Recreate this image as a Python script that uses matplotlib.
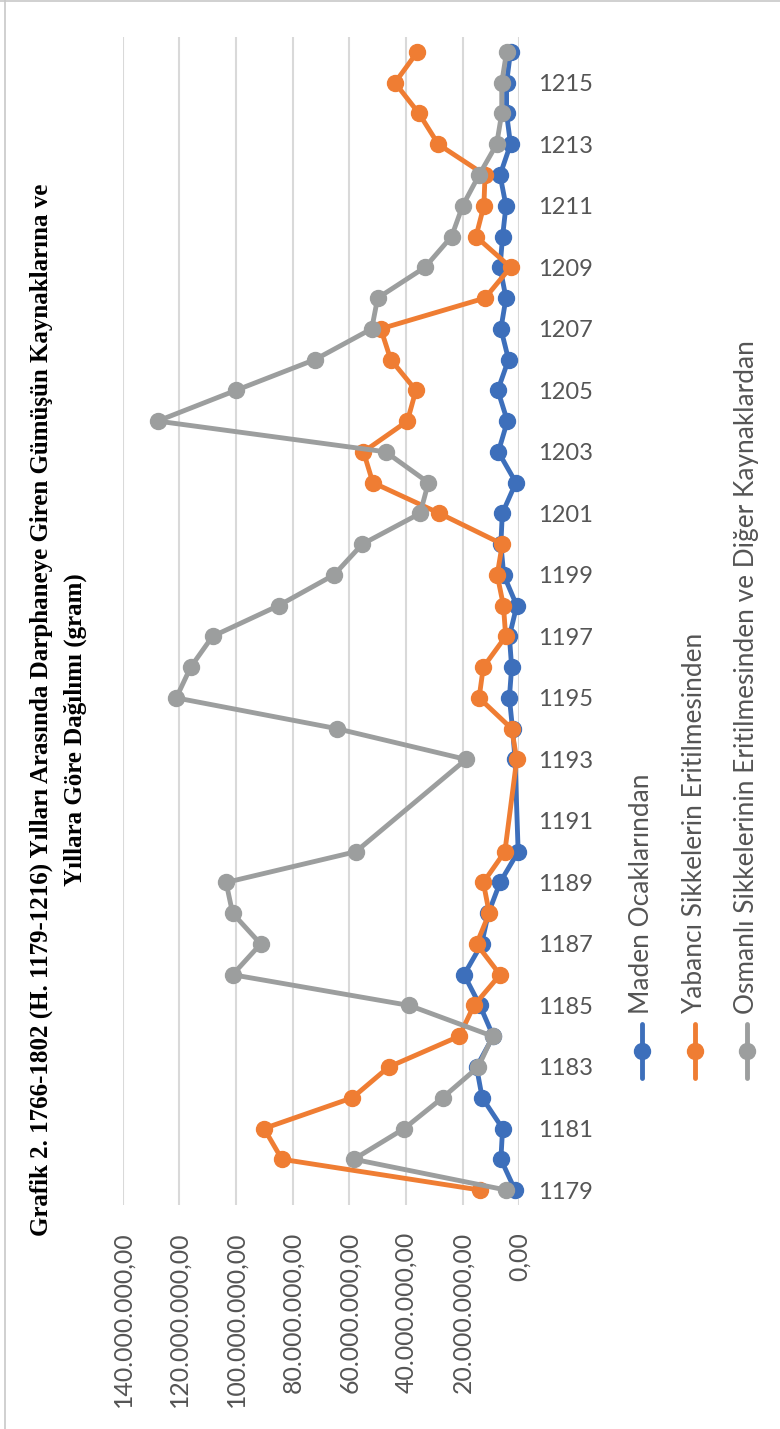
import numpy as np
import matplotlib
matplotlib.use("Agg")
import matplotlib.pyplot as plt
from matplotlib.ticker import FuncFormatter

plt.rcParams['font.family'] = ['Lato', 'DejaVu Sans']

# ---------------- data (values in millions of grams) ----------------
years = list(range(1179, 1217))
maden = [1.5, 6.5, 5.9, 13.1, 15.1, 9.2, 13.9, 19.5, 13.3, 10.9, 6.8, 0.4,
         np.nan, np.nan,
         1.5, 2.4, 3.5, 2.7, 3.5, 0.9, 5.5, 6.5, 6.0, 1.2, 7.4, 4.2, 7.6, 3.8,
         6.5, 4.7, 6.8, 5.9, 4.7, 6.8, 3.1, 4.5, 4.5, 3.1]
yabanci = [13.9, 83.8, 90.1, 58.9, 46.1, 21.2, 16.0, 6.8, 15.1, 10.6, 12.7, 5.1,
           np.nan, np.nan,
           0.9, 2.7, 14.2, 12.7, 4.8, 5.6, 7.8, 6.0, 28.2, 51.7, 55.0, 39.5, 36.5,
           45.4, 48.9, 12.1, 3.1, 15.3, 12.5, 12.1, 28.6, 35.4, 43.9, 36.0]
osmanli = [4.7, 58.4, 40.6, 27.1, 14.5, 9.4, 38.8, 101.2, 91.3, 101.2, 103.5, 57.7,
           np.nan, np.nan,
           18.8, 64.4, 121.1, 116.0, 108.3, 85.0, 65.4, 55.4, 35.0, 32.1, 47.2,
           127.7, 100.0, 72.1, 52.1, 50.0, 33.3, 23.9, 20.0, 14.2, 8.0, 6.2, 6.2, 4.5]
series_names = ["Maden Ocaklarından",
                "Yabancı Sikkelerin Eritilmesinden",
                "Osmanlı Sikkelerinin Eritilmesinden ve Diğer Kaynaklardan"]
title_lines = ["Grafik 2. 1766-1802 (H. 1179-1216) Yılları Arasında Darphaneye Giren Gümüşün Kaynaklarına ve",
               "Yıllara Göre Dağılımı (gram)"]
value_ticks = [0, 20e6, 40e6, 60e6, 80e6, 100e6, 120e6, 140e6]
year_ticks = list(range(1179, 1216, 2))

colors = ['#3D6FBB', '#EF7D33', '#9C9E9E']
label_color = '#555555'

W, H = 780, 1429
fig = plt.figure(figsize=(W / 100, H / 100), dpi=100)
renderer = fig.canvas.get_renderer()

def fit_size(text_artist, target_px, use_height):
    fs = text_artist.get_fontsize()
    bb = text_artist.get_window_extent(renderer)
    cur = bb.height if use_height else bb.width
    return fs * target_px / cur

# overlay in pixel coordinates (top-left origin)
ov = fig.add_axes([0, 0, 1, 1])
ov.set_xlim(0, W)
ov.set_ylim(H, 0)
ov.axis('off')

# ---------------- main chart (rotated layout) ----------------
left, right, top, bottom = 122.7, 519.3, 36.6, 1205.4
ax = fig.add_axes([left / W, 1 - bottom / H, (right - left) / W, (bottom - top) / H])
ax.set_xlim(140e6, 0)
ax.set_ylim(1178.5, 1216.5)
for s in ax.spines.values():
    s.set_visible(False)
ax.patch.set_alpha(0)

def tr_fmt(v, pos):
    s = f"{v:,.2f}"
    return s.replace(',', 'X').replace('.', ',').replace('X', '.')

# font sizes fitted to the reference
tmp = ov.text(0, 0, "140.000.000,00", fontsize=18, rotation=90)
xlab_fs = fit_size(tmp, 176, True)
tmp.remove()
tmp = ov.text(0, 0, "1215", fontsize=18)
ylab_fs = fit_size(tmp, 55, False)
tmp.remove()

ax.set_xticks(value_ticks)
ax.xaxis.set_major_formatter(FuncFormatter(tr_fmt))
ax.grid(axis='x', color='#D9D9D9', lw=1.5)
ax.set_axisbelow(True)
ax.tick_params(axis='x', length=0, pad=19, labelsize=xlab_fs,
               labelcolor=label_color, labelrotation=90)
ax.yaxis.tick_right()
ax.set_yticks(year_ticks)
ax.set_yticklabels([str(y) for y in year_ticks])
ax.tick_params(axis='y', length=0, pad=13.5, labelsize=ylab_fs, labelcolor=label_color)

yrs = np.array(years, dtype=float)
for vals, c, z in zip([maden, yabanci, osmanli], colors, [3, 4, 5]):
    v = np.array(vals, dtype=float) * 1e6
    m = ~np.isnan(v)
    ax.plot(v[m], yrs[m], color=c, lw=3.5, marker='o', ms=11.5,
            solid_capstyle='round', zorder=z, clip_on=False)

# ---------------- legend (rotated) ----------------
leg_x = [641.7, 695.0, 746.7]
tmp = ov.text(0, 0, series_names[0], fontsize=18, rotation=90)
leg_fs = fit_size(tmp, 239, True)
tmp.remove()
for x, c, name in zip(leg_x, colors, series_names):
    ov.plot([x, x], [1024, 1078], color=c, lw=3.5, solid_capstyle='round')
    ov.plot([x], [1051], marker='o', ms=11.5, color=c)
    ov.text(x, 1014, name, rotation=90, ha='center', va='bottom',
            fontsize=leg_fs, color=label_color)

# ---------------- title (rotated) ----------------
t1 = ov.text(41.5, 710, title_lines[0], rotation=90, ha='center', va='center',
             fontsize=17, fontweight='bold', family=['Liberation Serif', 'DejaVu Serif'],
             color='black')
tfs = fit_size(t1, 1056, True)
t1.set_fontsize(tfs)
ov.text(75.5, 730, title_lines[1], rotation=90, ha='center', va='center',
        fontsize=tfs, fontweight='bold', family=['Liberation Serif', 'DejaVu Serif'],
        color='black')

# border lines (top and left)
ov.plot([0, W], [1.2, 1.2], color='#C8C8C8', lw=1.2)
ov.plot([4.5, 4.5], [0, H], color='#C8C8C8', lw=1.2)

fig.savefig("out.png", dpi=100, facecolor='white')
